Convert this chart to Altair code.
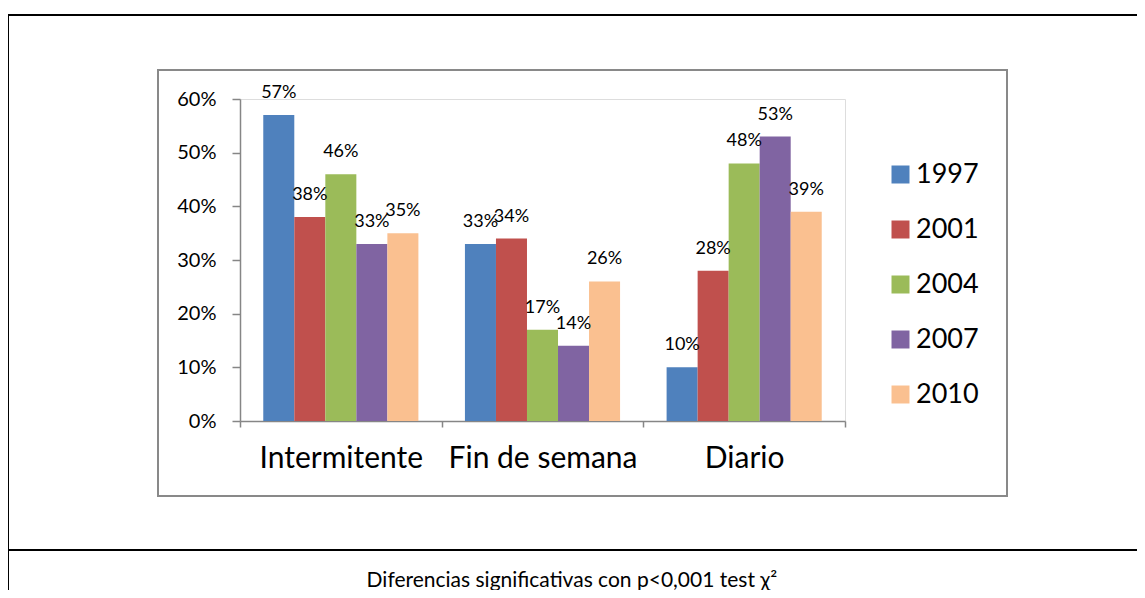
import altair as alt
import pandas as pd

categories = ["Intermitente", "Fin de semana", "Diario"]
years = ["1997", "2001", "2004", "2007", "2010"]
v1997 = [0.57, 0.33, 0.10]
v2001 = [0.38, 0.34, 0.28]
v2004 = [0.46, 0.17, 0.48]
v2007 = [0.33, 0.14, 0.53]
v2010 = [0.35, 0.26, 0.39]
y_ticks = [0.0, 0.1, 0.2, 0.3, 0.4, 0.5, 0.6]
caption = "Diferencias significativas con p<0,001 test χ²"

colors = ["#4F81BD", "#C0504D", "#9BBB59", "#8064A2", "#FAC090"]
FONT = "Lato"
AXIS_GRAY = "#868686"

series = [v1997, v2001, v2004, v2007, v2010]
rows = []
for yr, vals in zip(years, series):
    for cat, v in zip(categories, vals):
        rows.append({"categoria": cat, "anio": yr, "valor": v})
df = pd.DataFrame(rows)
deco = pd.DataFrame({"k": [0]})

base = alt.Chart(df).encode(
    x=alt.X(
        "categoria:N",
        sort=categories,
        scale=alt.Scale(paddingInner=0, paddingOuter=0),
        axis=alt.Axis(
            title=None,
            labelAngle=0,
            labelFont=FONT,
            labelFontSize=30,
            labelColor="black",
            labelPadding=16,
            labelLimit=0,
            labelOverlap=False,
            tickBand="extent",
            tickSize=6,
            tickColor=AXIS_GRAY,
            tickWidth=1.5,
            domainColor=AXIS_GRAY,
            domainWidth=1.5,
            grid=False,
        ),
    ),
    xOffset=alt.XOffset(
        "anio:N", sort=years, scale=alt.Scale(paddingInner=0, paddingOuter=0.75)
    ),
)

bars = base.mark_bar().encode(
    y=alt.Y(
        "valor:Q",
        scale=alt.Scale(domain=[0, 0.6], nice=False),
        axis=alt.Axis(
            title=None,
            format=".0%",
            values=y_ticks,
            labelFont=FONT,
            labelFontSize=20,
            labelColor="black",
            labelPadding=16,
            tickSize=8,
            tickColor=AXIS_GRAY,
            tickWidth=1.5,
            domainColor=AXIS_GRAY,
            domainWidth=1.5,
            grid=False,
        ),
    ),
    color=alt.Color(
        "anio:N",
        sort=years,
        scale=alt.Scale(domain=years, range=colors),
        legend=alt.Legend(
            title=None,
            orient="none",
            legendX=647,
            legendY=62,
            symbolType="square",
            symbolSize=324,
            symbolStrokeWidth=0,
            labelFont=FONT,
            labelFontSize=27,
            labelColor="black",
            labelOffset=2,
            rowPadding=27,
            padding=0,
        ),
    ),
)

labels = base.mark_text(dy=-22, fontSize=18, font=FONT, color="black", baseline="middle").encode(
    y=alt.Y("valor:Q"),
    text=alt.Text("valor:Q", format=".0%"),
)

inner_box = alt.Chart(deco).mark_rect(
    fill="transparent", stroke="#898989", strokeWidth=2
).encode(
    x=alt.value(-82), x2=alt.value(767), y=alt.value(-29), y2=alt.value(397)
)

top_line = alt.Chart(deco).mark_rule(color="black", strokeWidth=2).encode(
    x=alt.value(-232), x2=alt.value(900), y=alt.value(-84)
)
mid_line = alt.Chart(deco).mark_rule(color="black", strokeWidth=2).encode(
    x=alt.value(-232), x2=alt.value(900), y=alt.value(451)
)
left_line = alt.Chart(deco).mark_rule(color="black", strokeWidth=2).encode(
    x=alt.value(-232), y=alt.value(-85), y2=alt.value(500)
)

cap = alt.Chart(deco).mark_text(fontSize=21, font=FONT, color="black", baseline="middle").encode(
    x=alt.value(332), y=alt.value(482), text=alt.value(caption)
)

chart = (
    alt.layer(inner_box, bars, labels, top_line, mid_line, left_line, cap)
    .properties(
        width=605,
        height=322,
        autosize=alt.AutoSizeParams(type="none"),
        padding={"left": 232, "top": 91, "right": 292, "bottom": 169},
    )
    .configure_view(strokeWidth=0)
    .configure(background="white")
)

chart.save("out.html", embed_options={"renderer": "svg", "actions": False})
